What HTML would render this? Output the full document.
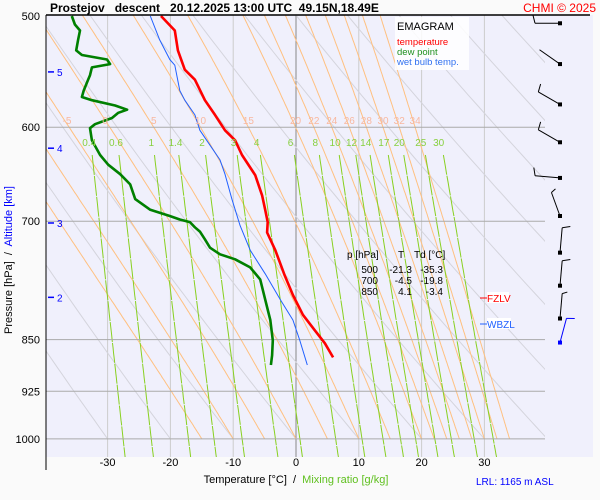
<!DOCTYPE html>
<html><head><meta charset="utf-8"><style>
body{margin:0;background:#fafafa;}
svg{display:block;font-family:"Liberation Sans",sans-serif;}
</style></head><body>
<svg id="chart" width="600" height="500" viewBox="0 0 600 500" xmlns="http://www.w3.org/2000/svg">
<rect x="0" y="0" width="600" height="500" fill="#fafafa"/>
<rect x="46" y="15" width="547" height="442" fill="#f0f0fc"/>
<defs><clipPath id="clip"><rect x="46" y="15" width="499" height="442"/></clipPath></defs>
<g id="grid" clip-path="url(#clip)"></g>
<g id="series" clip-path="url(#clip)"></g>
<g id="labels"></g>
</svg>
<script>
// ---- data ----
const tempP = [500,512,529,546,555,574,588,603,613,628,649,671,687,701,713,734,765,790,816,837,855,875];
const tempT = [-21.5,-19.3,-18.8,-17.7,-16.1,-14.5,-12.9,-11.3,-9.7,-8.6,-6.5,-5.4,-4.9,-4.5,-4.6,-3.3,-1.8,-0.5,1.1,3.0,4.6,5.9];
const dewP = [500,507,512,520,529,533,537,541,544,551,555,565,571,574,579,583,586,591,597,601,613,628,638,648,659,675,687,694,698,701,707,712,721,731,739,745,755,770,796,823,851,872,886];
const dewT = [-35.7,-35.2,-34.4,-34.7,-35.0,-34.1,-30.1,-29.6,-32.5,-32.8,-33.1,-33.8,-34.1,-32.5,-28.8,-26.9,-28.3,-29.3,-32.0,-32.8,-32.5,-31.2,-29.9,-28.0,-26.4,-25.6,-23.2,-20.1,-18.5,-16.9,-16.1,-15.3,-14.5,-13.7,-12.1,-9.7,-7.3,-5.7,-4.9,-4.1,-3.7,-3.8,-4.0];
const wetP = [500,520,537,542,565,574,588,603,618,633,648,675,705,734,763,796,823,851,886];
const wetT = [-23.2,-21.7,-20.1,-19.3,-18.5,-17.7,-16.1,-15.3,-13.7,-12.1,-11.3,-10.2,-8.9,-7.3,-4.9,-2.5,-0.5,0.6,1.8];
const xTicks = [-30,-20,-10,0,10,20,30];
const pLevels = [600,700,850,925,1000];
const altKm = [5,4,3,2];
const altP = [548,621,702,793];
const mixRatios = [0.4,0.6,1,1.4,2,3,4,6,8,10,12,14,17,20,25,30];
const moistThw = [-15,-10,-5,0,5,10,15,20,22,24,26,28,30,32,34];
const moistLabelled = [-5,0,5,10,15,20,22,24,26,28,30,32,34];
const dryTheta = [-30,-20,-10,0,10,20,30,40,50,60,70,80,90,100];
const windP = [506,541,578,615,652,694,737,778,821,854];
const windDir = [270,305,300,300,275,340,5,5,5,15];
const windSpd = [10,3,10,10,10,5,10,10,5,10];
const tableRows = [["500","-21.3","-35.3"],["700","-4.5","-19.8"],["850","4.1","-3.4"]];

// ---- axes ----
const X = t => 296 + t*6.28;
const Y = p => 16 + 610*Math.log(p/500);
const NS = "http://www.w3.org/2000/svg";
function mk(parent, tag, attrs, text){
  const el = document.createElementNS(NS, tag);
  for (const k in attrs) el.setAttribute(k, attrs[k]);
  if (text !== undefined) el.textContent = text;
  document.getElementById(parent).appendChild(el);
  return el;
}
function es(tc){return 6.112*Math.exp(17.67*tc/(tc+243.5));}
function tdFromW(w,p){const e=w*p/(622+w);const l=Math.log(e/6.112);return 243.5*l/(17.67-l);}
function moistProfile(thw){
  const pts=[];let T=thw+273.15;
  for(let p=1000;p>=480;p-=2){
    pts.push([p,T-273.15]);
    const tc=T-273.15;const e=es(tc);const rs=0.622*e/(p-e);
    const num=287*T+2.5e6*rs;const den=1005+2.5e6*2.5e6*rs*0.622/(287*T*T);
    T+= (num/den)*(-2/p);
  }
  return pts;
}

// isotherms
xTicks.forEach(t=>{
  const l=mk('grid','line',{x1:X(t),x2:X(t),y1:15,y2:457,stroke:t===0?'#888':'#ccc','stroke-width':1});
  
  
  const tx=mk('labels','text',{x:X(t),y:466,'font-size':11,'text-anchor':'middle',fill:'#000'},String(t));
  
  
});
// dry adiabats
dryTheta.forEach(th=>{
  let d='';
  for(let p=1000;p>=480;p-=10){const T=(th+273.15)*Math.pow(p/1000,0.286)-273.15;d+=(d?'L':'M')+X(T).toFixed(1)+','+Y(p).toFixed(1);}
  const el=mk('grid','path',{d:d,fill:'none',stroke:'#d4d4dc','stroke-width':1});
  
  
});
// moist adiabats
moistThw.forEach(th=>{
  const pts=moistProfile(th);
  const d=pts.map((q,i)=>(i?'L':'M')+X(q[1]).toFixed(1)+','+Y(q[0]).toFixed(1)).join('');
  const el=mk('grid','path',{d:d,fill:'none',stroke:'#ffc080','stroke-width':1});
  
  
  if(moistLabelled.includes(th)){
    const q=pts.find(a=>a[0]<=600);
    let x=X(q[1]);
    if(th===-5) x=67;
    if(th===0) x=105;
    const t=mk('labels','text',{x:x,y:124,'font-size':10,'text-anchor':'middle',fill:'#f8b8a0'},String(th));
    
    
  }
});
// mixing ratio lines
mixRatios.forEach(w=>{
  let d='';
  for(let p=628;p<=1040;p+=6){d+=(d?'L':'M')+X(tdFromW(w,p)).toFixed(1)+','+Y(p).toFixed(1);}
  const el=mk('grid','path',{d:d,fill:'none',stroke:'#88d020','stroke-width':1,'stroke-dasharray':'20,1'});
  
  
  const t=mk('labels','text',{x:X(tdFromW(w,600)),y:146,'font-size':10,'text-anchor':'middle',fill:'#88d040'},String(w));
  
  
});
// pressure lines
pLevels.forEach(p=>{
  const l=mk('grid','line',{x1:46,x2:545,y1:Y(p),y2:Y(p),stroke:'#aaa','stroke-width':1});
  
  
});
[500].concat(pLevels).forEach(p=>{
  const t=mk('labels','text',{x:40,y:Y(p)+4,'font-size':11,'text-anchor':'end',fill:'#000'},String(p));
  
  
});
// altitude ticks
altKm.forEach((k,i)=>{
  const l=mk('labels','line',{x1:48,x2:54,y1:Y(altP[i]),y2:Y(altP[i]),stroke:'#00f','stroke-width':1.5});
  
  
  const t=mk('labels','text',{x:57,y:Y(altP[i])+4,'font-size':10,fill:'#00f'},String(k));
  
  
});
// series
function series(P,T,color,w,name){
  const d=P.map((p,i)=>(i?'L':'M')+X(T[i]).toFixed(1)+','+Y(p).toFixed(1)).join('');
  const el=mk('series','path',{d:d,fill:'none',stroke:color,'stroke-width':w,'stroke-linejoin':'round'});
  
  
}
series(wetP,wetT,'#2060ff',1,'wet-bulb-line');
series(dewP,dewT,'#008000',2.6,'dew-point-line');
series(tempP,tempT,'#ff0000',2.6,'temperature-line');
// wind barbs
windP.forEach((p,i)=>{
  const x0=560,y0=Y(p);const a=windDir[i]*Math.PI/180;
  const dx=Math.sin(a),dy=-Math.cos(a);const L=25;
  const x1=x0+dx*L,y1=y0+dy*L;
  const col=i===windP.length-1?'#0000ff':'#000';
  const s=mk('labels','line',{x1:x0,y1:y0,x2:x1,y2:y1,stroke:col,'stroke-width':1});
  
  
  const bl=windSpd[i]>=10?8:(windSpd[i]>=5?5:0);
  if(bl){
    const b=mk('labels','line',{x1:x1,y1:y1,x2:x1-dy*bl+dx*2,y2:y1+dx*bl+dy*2,stroke:col,'stroke-width':1});
    
    
  }
  const dot=mk('labels','rect',{x:x0-2,y:y0-2,width:4,height:4,fill:col});
  
  
});
// table
const tcols=[[378,'end'],[412,'end'],[443,'end']];
tableRows.forEach((r,i)=>{
  r.forEach((v,j)=>{
    const t=mk('labels','text',{x:tcols[j][0],y:273+i*11,'font-size':10,'text-anchor':tcols[j][1],fill:'#000'},v);
    
    
  });
});
</script>
<svg style="position:absolute;left:0;top:0" width="600" height="500">
<g font-family="Liberation Sans, sans-serif">
<line x1="46" y1="15" x2="590" y2="15" stroke="#000" stroke-width="1.5"/>
<line x1="46" y1="15" x2="46" y2="470" stroke="#000" stroke-width="1"/>
<text x="50" y="12" font-size="12" font-weight="bold" fill="#000">Prostejov&#160;&#160; descent&#160;&#160; 20.12.2025 13:00 UTC&#160; 49.15N,18.49E</text>
<text x="596" y="12" font-size="12" fill="#f00" text-anchor="end">CHMI © 2025</text>
<rect x="395" y="17" width="74" height="53" fill="#ffffff" opacity="0.85"/>
<text x="397" y="30" font-size="11" fill="#000">EMAGRAM</text>
<text x="397" y="45" font-size="9.5" fill="#f00">temperature</text>
<text x="397" y="55" font-size="9.5" fill="#209020">dew point</text>
<text x="397" y="65" font-size="9.5" fill="#3070f0">wet bulb temp.</text>
<text x="347" y="258" font-size="10" fill="#000">p [hPa]</text>
<text x="398" y="258" font-size="10" fill="#000">T</text>
<text x="414" y="258" font-size="10" fill="#000">Td [°C]</text>
<line x1="480" y1="298" x2="487" y2="298" stroke="#f00"/>
<rect x="487" y="292" width="22" height="11" fill="#fff"/>
<text x="487" y="302" font-size="10" fill="#f00">FZLV</text>
<line x1="480" y1="324" x2="487" y2="324" stroke="#2060ff"/>
<rect x="487" y="318" width="24" height="11" fill="#fff"/>
<text x="487" y="328" font-size="10" fill="#2060ff">WBZL</text>
<text transform="translate(12,260) rotate(-90)" font-size="11" text-anchor="middle"><tspan fill="#000">Pressure [hPa]&#160; /&#160; </tspan><tspan fill="#00f">Altitude [km]</tspan></text>
<text x="296" y="483" font-size="11" text-anchor="middle"><tspan fill="#000">Temperature [°C]&#160; /&#160;&#160;</tspan><tspan fill="#60c020">Mixing ratio [g/kg]</tspan></text>
<text x="476" y="485" font-size="10" fill="#00f">LRL: 1165 m ASL</text>
</g>
</svg>
</body></html>
